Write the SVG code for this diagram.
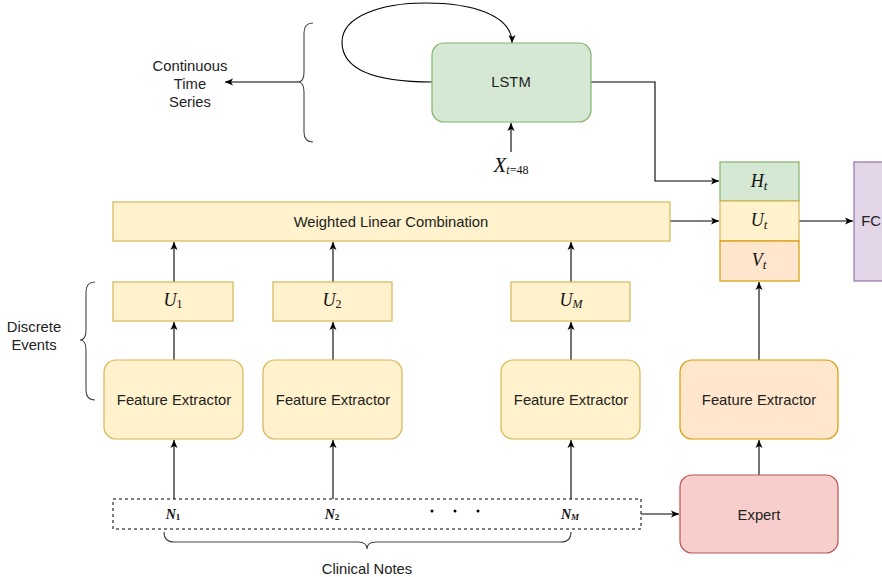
<svg xmlns="http://www.w3.org/2000/svg" width="882" height="577" viewBox="0 0 882 577">
<defs>
<marker id="ah" markerWidth="10" markerHeight="10" refX="9" refY="5" orient="auto" markerUnits="userSpaceOnUse">
<path d="M1,1.5 L9,5 L1,8.5 L3,5 Z" fill="#000"/>
</marker>
</defs>
<style>
.t{font-family:"Liberation Sans",Arial,sans-serif;font-size:14.8px;fill:#222;text-anchor:middle;dominant-baseline:central}
.m{font-family:"Liberation Serif","Times New Roman",serif;font-style:italic;fill:#111;text-anchor:middle;dominant-baseline:central}
.yel{fill:#fff2cc;stroke:#d6b656;stroke-width:1.2}
.org{fill:#ffe6cc;stroke:#d79b00;stroke-width:1.2}
.grn{fill:#d5e8d4;stroke:#82b366;stroke-width:1.2}
.red{fill:#f8cecc;stroke:#b85450;stroke-width:1.2}
.pur{fill:#e1d5e7;stroke:#9673a6;stroke-width:1.2}
.c{fill:none;stroke:#000;stroke-width:1.1;marker-end:url(#ah)}
.br{fill:none;stroke:#444;stroke-width:1.1}
</style>
<rect width="882" height="577" fill="#fff"/>

<g id="connectors">
<path class="c" d="M432,82 C362,82 342,64 342,42 C342,16 382,3 425,3 C472,3 512,15 512,43"/>
<path class="c" d="M511,152 L511,123"/>
<path class="c" d="M591,82 L655,82 L655,181 L719,181"/>
<path class="c" d="M298,82 L225,82"/>
<path class="c" d="M670,221 L719,221"/>
<path class="c" d="M799,221 L853,221"/>
<path class="c" d="M174,282 L174,242"/>
<path class="c" d="M333,282 L333,242"/>
<path class="c" d="M571,282 L571,242"/>
<path class="c" d="M174,360 L174,322"/>
<path class="c" d="M333,360 L333,322"/>
<path class="c" d="M571,360 L571,322"/>
<path class="c" d="M174,499 L174,440"/>
<path class="c" d="M333,499 L333,440"/>
<path class="c" d="M571,499 L571,440"/>
<path class="c" d="M641,514 L679,514"/>
<path class="c" d="M759,475 L759,440"/>
<path class="c" d="M759,360 L759,282"/>
</g>

<g id="brace-continuous">
<path class="br" d="M313,23 Q304,23 304,33 L304,72 Q304,82 298,82 Q304,82 304,92 L304,132 Q304,142 313,142"/>
<text class="t" x="190" y="66">Continuous</text>
<text class="t" x="190" y="84">Time</text>
<text class="t" x="190" y="102">Series</text>
</g>

<g id="brace-discrete">
<path class="br" d="M95,282 Q86,282 86,292 L86,330 Q86,340 80,340 Q86,340 86,350 L86,390 Q86,400 95,400"/>
<text class="t" x="34" y="327">Discrete</text>
<text class="t" x="34" y="345">Events</text>
</g>

<g id="brace-notes">
<path class="br" d="M164,532 Q164,542 174,542 L358,542 Q367,542 367,549 Q367,542 376,542 L561,542 Q571,542 571,532"/>
<text class="t" x="367" y="569">Clinical Notes</text>
</g>

<g id="lstm">
<rect class="grn" x="432" y="43" width="159" height="79" rx="12"/>
<text class="t" x="511" y="82">LSTM</text>
</g>

<g id="xt">
<text class="m" x="511" y="165" font-size="21">X<tspan font-size="12" dy="5">t</tspan><tspan font-size="12" font-style="normal">=48</tspan></text>
</g>

<g id="ht">
<rect class="grn" x="720" y="162" width="79" height="39"/>
<text class="m" x="759" y="181" font-size="18">H<tspan font-size="13" dy="4">t</tspan></text>
</g>
<g id="ut">
<rect class="yel" x="720" y="201" width="79" height="40"/>
<text class="m" x="759" y="220" font-size="18">U<tspan font-size="13" dy="4">t</tspan></text>
</g>
<g id="vt">
<rect class="org" x="720" y="241" width="79" height="40"/>
<text class="m" x="759" y="260" font-size="18">V<tspan font-size="13" dy="4">t</tspan></text>
</g>

<g id="fc">
<rect class="pur" x="854" y="162" width="40" height="119"/>
<text class="t" x="871" y="221">FC</text>
</g>

<g id="wlc">
<rect class="yel" x="113" y="202" width="557" height="39"/>
<text class="t" x="391" y="222">Weighted Linear Combination</text>
</g>

<g id="u1">
<rect class="yel" x="113" y="282" width="120" height="39"/>
<text class="m" x="173" y="300" font-size="18">U<tspan font-size="12" font-style="normal" dy="4">1</tspan></text>
</g>
<g id="u2">
<rect class="yel" x="273" y="282" width="119" height="39"/>
<text class="m" x="332" y="300" font-size="18">U<tspan font-size="12" font-style="normal" dy="4">2</tspan></text>
</g>
<g id="um">
<rect class="yel" x="511" y="282" width="119" height="39"/>
<text class="m" x="571" y="300" font-size="18">U<tspan font-size="12" dy="4">M</tspan></text>
</g>

<g id="fe1">
<rect class="yel" x="104" y="360" width="139" height="79" rx="12"/>
<text class="t" x="174" y="400">Feature Extractor</text>
</g>
<g id="fe2">
<rect class="yel" x="263" y="360" width="139" height="79" rx="12"/>
<text class="t" x="333" y="400">Feature Extractor</text>
</g>
<g id="fem">
<rect class="yel" x="501" y="360" width="139" height="79" rx="12"/>
<text class="t" x="571" y="400">Feature Extractor</text>
</g>
<g id="fe-expert">
<rect class="org" x="680" y="360" width="158" height="79" rx="12"/>
<text class="t" x="759" y="400">Feature Extractor</text>
</g>

<g id="expert">
<rect class="red" x="680" y="475" width="158" height="78" rx="12"/>
<text class="t" x="759" y="515">Expert</text>
</g>

<g id="notes">
<rect x="113" y="499" width="528" height="30" fill="#fff" stroke="#000" stroke-width="1" stroke-dasharray="3,3"/>
<text class="m" x="173" y="514" font-size="14" font-weight="bold">N<tspan font-size="9" font-style="normal" dy="3">1</tspan></text>
<text class="m" x="332" y="514" font-size="14" font-weight="bold">N<tspan font-size="9" font-style="normal" dy="3">2</tspan></text>
<text class="m" x="570" y="514" font-size="14" font-weight="bold">N<tspan font-size="9" dy="3">M</tspan></text>
<circle cx="432" cy="511" r="1.5" fill="#000"/>
<circle cx="455" cy="511" r="1.5" fill="#000"/>
<circle cx="478" cy="511" r="1.5" fill="#000"/>
</g>
</svg>
